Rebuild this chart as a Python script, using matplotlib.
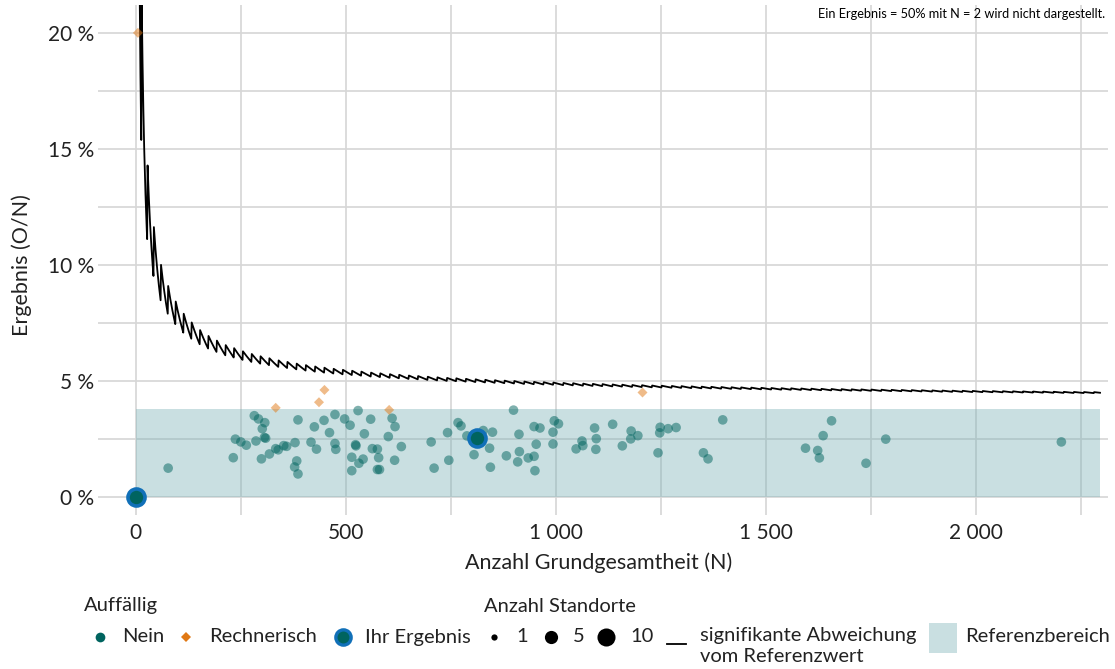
import matplotlib
matplotlib.use('Agg')
import matplotlib.pyplot as plt
import numpy as np
from matplotlib.lines import Line2D
from matplotlib.patches import Rectangle

plt.rcParams['font.family'] = ['Lato', 'DejaVu Sans']

# Standorte, nicht auffaellig: Grundgesamtheit N und Ergebnis in %
nein_n = [77, 232, 237, 250, 263, 282, 292, 307, 301, 286, 306, 309, 299, 318, 333, 339,
          352, 359, 379, 386, 383, 378, 386, 417, 425, 430, 448, 461, 474, 474, 476, 497,
          510, 523, 524, 514, 514, 529, 531, 541, 544, 559, 563, 575, 578, 575, 580, 601,
          610, 617, 616, 632, 703, 710, 742, 745, 767, 774, 788, 805, 827, 842, 849, 844,
          882, 899, 912, 913, 909, 934, 948, 962, 953, 948, 950, 996, 1006, 993, 993, 1048,
          1062, 1064, 1092, 1096, 1095, 1135, 1158, 1179, 1178, 1195, 1243, 1248, 1247, 1267,
          1286, 1351, 1362, 1397, 1594, 1623, 1627, 1636, 1656, 1738, 1785, 2203]
nein_pct = [1.24, 1.69, 2.49, 2.37, 2.23, 3.50, 3.36, 3.20, 2.94, 2.41, 2.56, 2.53, 1.64, 1.85,
            2.08, 2.03, 2.21, 2.18, 2.34, 3.32, 1.55, 1.29, 0.99, 2.36, 3.02, 2.06, 3.30, 2.77,
            3.55, 2.30, 2.05, 3.36, 3.09, 2.25, 2.20, 1.71, 1.13, 3.72, 1.45, 1.63, 2.72, 3.35,
            2.08, 2.06, 1.69, 1.18, 1.18, 2.60, 3.39, 3.03, 1.58, 2.17, 2.37, 1.24, 2.77, 1.58,
            3.20, 3.06, 2.63, 1.82, 2.86, 2.10, 2.79, 1.28, 1.77, 3.74, 2.70, 1.95, 1.51, 1.68,
            3.03, 2.97, 2.27, 1.75, 1.13, 3.28, 3.15, 2.79, 2.28, 2.07, 2.41, 2.21, 2.97, 2.51,
            2.05, 3.13, 2.20, 2.84, 2.50, 2.64, 1.90, 3.00, 2.76, 2.94, 2.99, 1.90, 1.64, 3.32,
            2.10, 2.00, 1.68, 2.64, 3.28, 1.45, 2.49, 2.37]

# rechnerisch auffaellig
rech_n = [5, 333, 436, 449, 603, 1206]
rech_pct = [20.0, 3.84, 4.08, 4.61, 3.75, 4.50]

# Ihr Ergebnis
ihr_n = [0, 811]
ihr_pct = [0.0, 2.54]

# Referenzbereich <= 3.8 %
ref_upper = 3.8
ref_n_max = 2295

# signifikante Abweichung: kritische Anzahl O startet bei 2 und steigt an diesen N um 1
sig_first_count = 2
sig_jump_n = [14, 28, 43, 60, 77, 95, 114, 133, 153, 173, 193, 214, 234, 255, 276, 297, 318,
              340, 361, 383, 405, 427, 449, 471, 493, 515, 537, 560, 582, 605, 627, 650, 672,
              695, 718, 741, 763, 786, 809, 832, 855, 878, 901, 925, 948, 971, 994, 1018, 1041,
              1065, 1088, 1111, 1135, 1158, 1182, 1205, 1229, 1252, 1276, 1299, 1323, 1347,
              1370, 1394, 1418, 1441, 1465, 1489, 1513, 1537, 1560, 1584, 1608, 1632, 1656,
              1680, 1704, 1727, 1751, 1775, 1799, 1823, 1847, 1871, 1896, 1920, 1944, 1968,
              1992, 2016, 2040, 2064, 2088, 2112, 2136, 2160, 2185, 2209, 2233, 2257, 2281]

x_ticks = [0, 500, 1000, 1500, 2000]
x_tick_labels = ['0', '500', '1 000', '1 500', '2 000']
x_minor = [250, 750, 1250, 1750, 2250]
y_ticks = [0, 5, 10, 15, 20]
y_tick_labels = ['0 %', '5 %', '10 %', '15 %', '20 %']
y_minor = [2.5, 7.5, 12.5, 17.5]

teal = '#00645f'
orange = '#e07814'
blue = '#1170b8'
ref_col = '#78afb4'
txt = '#222222'

W, H = 1115, 669
fig = plt.figure(figsize=(W / 100, H / 100), dpi=100)
ax = fig.add_axes([98 / W, 1 - 515 / H, (1108 - 98) / W, (515 - 5) / H])

ax.add_patch(Rectangle((0, 0), ref_n_max, ref_upper, facecolor=ref_col, alpha=0.4,
                       edgecolor='none', zorder=1))

# Schwellenlinie
n = np.arange(2, ref_n_max + 1)
count = sig_first_count + np.searchsorted(sig_jump_n, n, side='right')
ax.plot(n, 100 * count / n, color='black', lw=1.3, zorder=3)

ax.scatter(nein_n, nein_pct, s=48, color=teal, alpha=0.5, edgecolors='none', zorder=4)
ax.scatter(rech_n, rech_pct, s=26, marker='D', color=orange, alpha=0.5,
           edgecolors='none', zorder=4)
ax.scatter(ihr_n, ihr_pct, s=150, color=teal, edgecolors=blue, linewidths=2.6, zorder=5)

ax.set_xlim(-90, 2314)
ax.set_ylim(-0.78, 21.2)
ax.set_xticks(x_ticks)
ax.set_xticklabels(x_tick_labels)
ax.set_xticks(x_minor, minor=True)
ax.set_yticks(y_ticks)
ax.set_yticklabels(y_tick_labels)
ax.set_yticks(y_minor, minor=True)
ax.set_axisbelow(True)
ax.grid(which='both', color='#d6d6d6', lw=1.2, zorder=0)
ax.tick_params(which='both', length=0, labelsize=15, colors=txt)
ax.tick_params(axis='x', pad=6)
ax.tick_params(axis='y', pad=3)
for s in ax.spines.values():
    s.set_visible(False)

fig.text(22 / W, 1 - 265 / H, 'Ergebnis (O/N)', rotation=90, ha='center', va='center',
         fontsize=15.5, color=txt)
fig.text(599 / W, 1 - 563 / H, 'Anzahl Grundgesamtheit (N)', ha='center', va='center',
         fontsize=15.5, color=txt)
fig.text(1105 / W, 1 - 14 / H, 'Ein Ergebnis = 50% mit N = 2 wird nicht dargestellt.',
         ha='right', va='center', fontsize=9.2, color='black')


# Legende
def fx(x):
    return x / W


def fy(y):
    return 1 - y / H


def mark(x, y, **kw):
    fig.add_artist(Line2D([fx(x)], [fy(y)], transform=fig.transFigure, linestyle='none', **kw))


def label(x, y, s, **kw):
    fig.text(fx(x), fy(y), s, ha='left', va='center', fontsize=14.5, color=txt, **kw)


ly = 637
label(84, 606, 'Auffällig')
mark(100, ly, marker='o', markersize=7, color=teal, markeredgewidth=0)
label(122, ly, 'Nein')
mark(186, ly, marker='D', markersize=5.5, color=orange, markeredgewidth=0)
label(209, ly, 'Rechnerisch')
mark(343, ly, marker='o', markersize=11, markerfacecolor=teal, markeredgecolor=blue,
     markeredgewidth=2.4)
label(365, ly, 'Ihr Ergebnis')

label(484, 606, 'Anzahl Standorte')
for x, ms, lx, s in [(494, 4.5, 516, '1'), (551, 9.5, 573, '5'), (606, 13, 630, '10')]:
    mark(x, ly, marker='o', markersize=ms, color='black', markeredgewidth=0)
    label(lx, ly, s)

fig.add_artist(Line2D([fx(667), fx(686)], [fy(644), fy(644)], transform=fig.transFigure,
                      color='black', lw=1.3))
label(700, 636, 'signifikante Abweichung')
label(700, 656, 'vom Referenzwert')
fig.add_artist(Rectangle((fx(929), fy(653)), (957 - 929) / W, (653 - 623) / H,
                         transform=fig.transFigure, facecolor=ref_col, alpha=0.4,
                         edgecolor='none'))
label(965, ly, 'Referenzbereich')

plt.savefig('out.png', dpi=100)
